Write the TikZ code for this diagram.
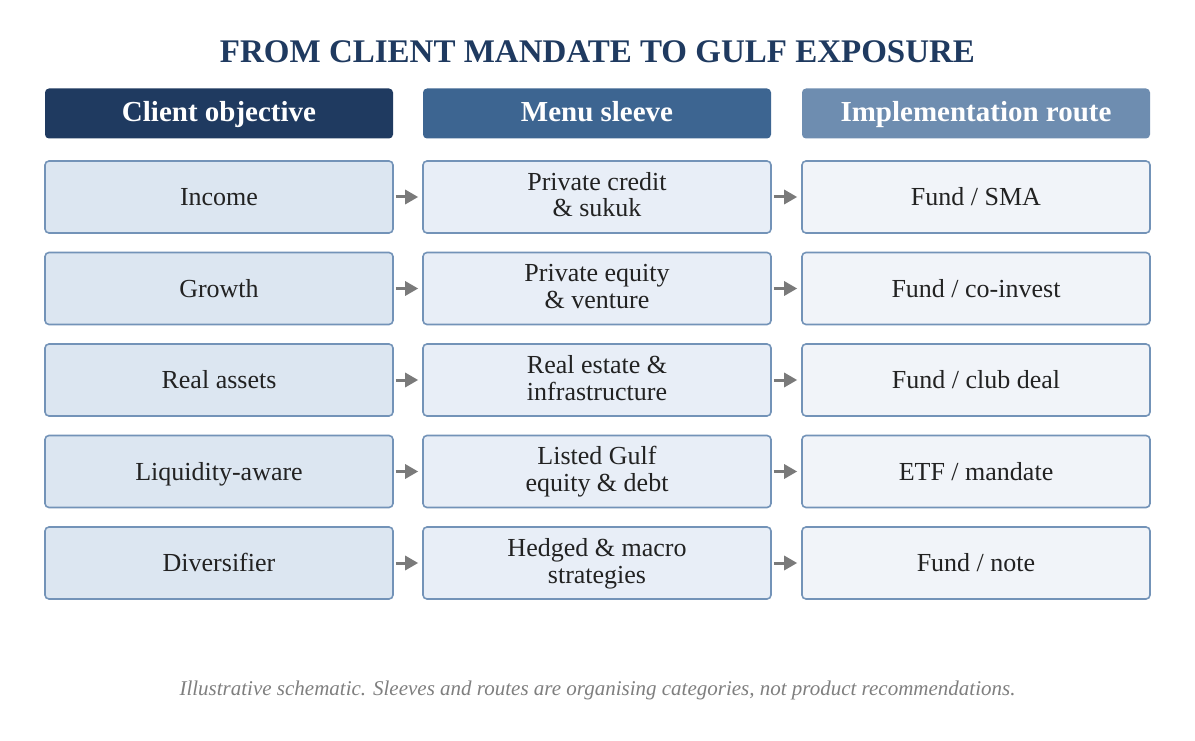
\documentclass[tikz,border=0pt]{standalone}
\usepackage{fontspec}
\setmainfont{Liberation Serif}
\usetikzlibrary{arrows.meta}
\definecolor{titleblue}{HTML}{1F3A60}
\definecolor{hdA}{HTML}{1F3A60}
\definecolor{hdB}{HTML}{3D6591}
\definecolor{hdC}{HTML}{6E8DB0}
\definecolor{fillA}{HTML}{DCE6F1}
\definecolor{fillB}{HTML}{E8EEF7}
\definecolor{fillC}{HTML}{F1F4F9}
\definecolor{edge}{HTML}{7393B8}
\definecolor{arrowgrey}{HTML}{7A7A7A}
\definecolor{textdark}{HTML}{222222}
\definecolor{footgrey}{HTML}{7F7F7F}
\newcommand\onestrut{\rule[-6pt]{0pt}{29pt}}
\newcommand\firststrut{\rule{0pt}{22pt}}
\newcommand\laststrut{\rule[-9pt]{0pt}{9pt}}
\begin{document}
\begin{tikzpicture}[x=1pt,y=-1pt,
  hdbox/.style={rectangle, rounded corners=4pt, minimum width=348pt, minimum height=50pt,
    inner sep=0pt, text=white, text height=20pt, text depth=3pt,
    font=\fontsize{29}{32}\selectfont\bfseries},
  cellbox/.style={rectangle, rounded corners=4pt, draw=edge, line width=1.6pt,
    minimum width=348pt, minimum height=72pt, inner sep=0pt, text=textdark,
    align=center, font=\fontsize{26}{27}\selectfont},
  cellA/.style={cellbox, fill=fillA},
  cellB/.style={cellbox, fill=fillB},
  cellC/.style={cellbox, fill=fillC},
  flow/.style={draw=arrowgrey, line width=3pt, -{Triangle[length=13pt,width=14pt]}, shorten <=2pt, shorten >=4pt}
]
\useasboundingbox (0,0) rectangle (1195,741);
\fill[white] (0,0) rectangle (1195,741);

\node[font=\fontsize{33}{36}\selectfont\bfseries, text=titleblue] (title) at (597.5,52) {FROM CLIENT MANDATE TO GULF EXPOSURE};

\node[hdbox, fill=hdA] (h1) at (219,113.5) {Client objective};
\node[hdbox, fill=hdB] (h2) at (597,113.5) {Menu sleeve};
\node[hdbox, fill=hdC] (h3) at (976,113.5) {Implementation route};

% rows
\node[cellA] (a1) at (219,197) {\onestrut Income};
\node[cellB] (b1) at (597,197) {\firststrut Private credit\\\& sukuk\laststrut};
\node[cellC] (c1) at (976,197) {\onestrut Fund / SMA};

\node[cellA] (a2) at (219,288.5) {\onestrut Growth};
\node[cellB] (b2) at (597,288.5) {\firststrut Private equity\\\& venture\laststrut};
\node[cellC] (c2) at (976,288.5) {\onestrut Fund / co-invest};

\node[cellA] (a3) at (219,380) {\onestrut Real assets};
\node[cellB] (b3) at (597,380) {\firststrut Real estate \&\\infrastructure\laststrut};
\node[cellC] (c3) at (976,380) {\onestrut Fund / club deal};

\node[cellA] (a4) at (219,471.5) {\onestrut Liquidity-aware};
\node[cellB] (b4) at (597,471.5) {\firststrut Listed Gulf\\equity \& debt\laststrut};
\node[cellC] (c4) at (976,471.5) {\onestrut ETF / mandate};

\node[cellA] (a5) at (219,563) {\onestrut Diversifier};
\node[cellB] (b5) at (597,563) {\firststrut Hedged \& macro\\strategies\laststrut};
\node[cellC] (c5) at (976,563) {\onestrut Fund / note};

\foreach \i in {1,...,5}{
  \draw[flow] (a\i) -- (b\i);
  \draw[flow] (b\i) -- (c\i);
}

\node[font=\fontsize{21}{24}\selectfont\itshape, text=footgrey] (foot) at (597.5,690) {Illustrative schematic. Sleeves and routes are organising categories, not product recommendations.};
\end{tikzpicture}
\end{document}
